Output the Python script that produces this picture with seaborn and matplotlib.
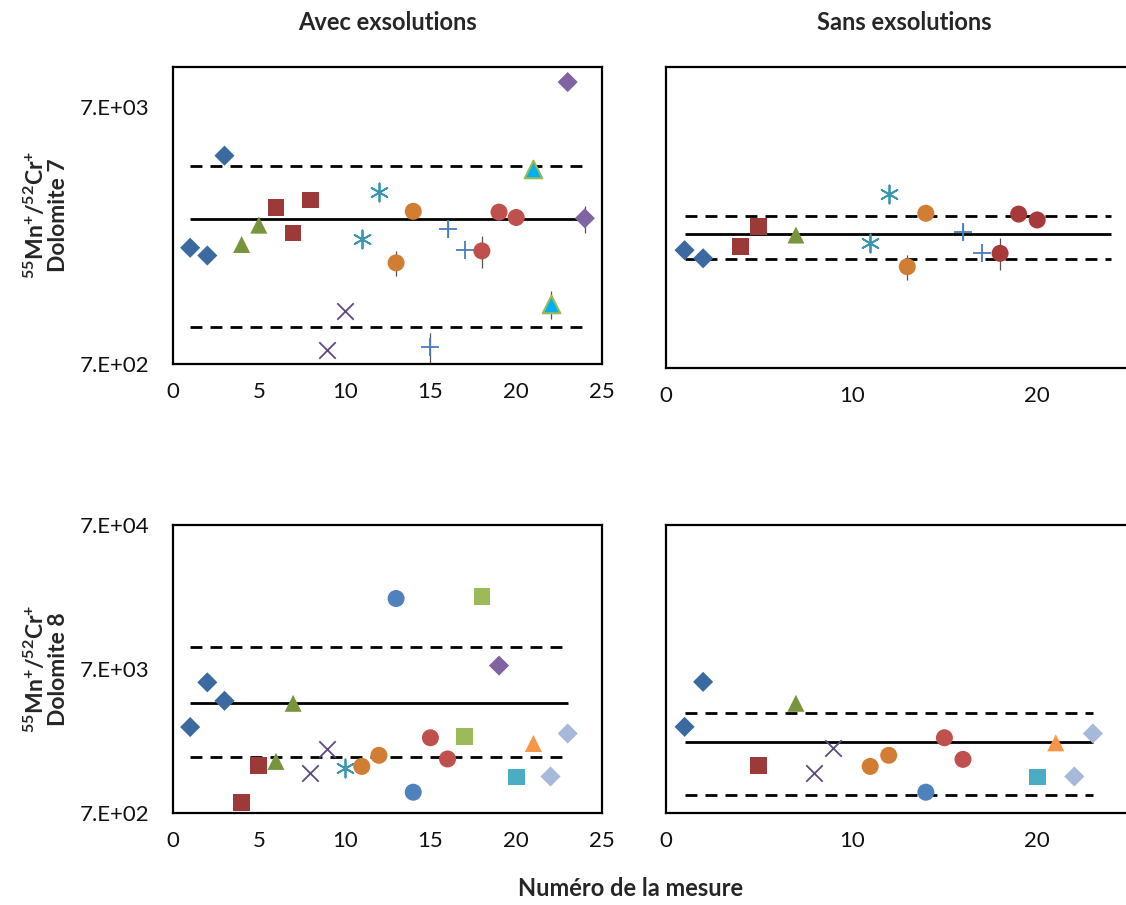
import numpy as np
import pandas as pd
import matplotlib
matplotlib.use('Agg')
from matplotlib import pyplot as plt
from matplotlib.ticker import NullLocator
import seaborn as sns

# Dolomite 7 - avec exsolutions
d7a_x = list(range(1, 25))
d7a_y = [1982, 1849, 4521, 2041, 2427, 2838, 2260, 3040, 793, 1129, 2135, 3264,
         1731, 2746, 817, 2336, 1946, 1927, 2727, 2599, 4004, 1197, 8739, 2581]
d7a_err = [0, 0, 0, 0, 0, 0, 0, 0, 0, 0, 160, 0,
           190, 0, 110, 160, 0, 270, 130, 0, 180, 145, 0, 310]
d7a_grp = ['A', 'A', 'A', 'B', 'B', 'C', 'C', 'C', 'D', 'D', 'E', 'E',
           'F', 'F', 'G', 'G', 'G', 'H', 'H', 'H', 'I', 'I', 'J', 'J']
d7a_lines = [2553, 4107, 979]   # moyenne, limite haute, limite basse
d7a_span = [1, 24]

# Dolomite 7 - sans exsolutions
d7s_x = [1, 2, 4, 5, 7, 11, 12, 13, 14, 16, 17, 18, 19, 20]
d7s_y = [1982, 1845, 2045, 2439, 2266, 2115, 3252, 1713, 2746, 2336, 1939, 1928, 2727, 2589]
d7s_err = [0, 0, 0, 0, 0, 160, 0, 190, 110, 160, 0, 270, 130, 0]
d7s_grp = ['A', 'A', 'C', 'C', 'B', 'E', 'E', 'F', 'F', 'G', 'G', 'P', 'P', 'P']
d7s_lines = [2282, 2687, 1830]
d7s_span = [1, 24]

# Dolomite 8 - avec exsolutions
d8a_x = list(range(1, 24))
d8a_y = [2767, 5654, 4210, 831, 1494, 1598, 4045, 1325, 1950, 1437, 1474, 1761,
         21600, 976, 2331, 1661, 2368, 22200, 7393, 1243, 2127, 1255, 2496]
d8a_err = [0] * 23
d8a_grp = ['A', 'A', 'A', 'C', 'C', 'B', 'B', 'D', 'D', 'E', 'F', 'F',
           'K', 'K', 'H', 'H', 'L', 'L', 'J', 'M', 'N', 'O', 'O']
d8a_lines = [4093, 10020, 1713]
d8a_span = [1, 23]

# Dolomite 8 - sans exsolutions
d8s_x = [1, 2, 5, 7, 8, 9, 11, 12, 14, 15, 16, 20, 21, 22, 23]
d8s_y = [2776, 5700, 1500, 4045, 1325, 1970, 1474, 1761, 976, 2331, 1650, 1243, 2150, 1255, 2496]
d8s_err = [0] * 15
d8s_grp = ['A', 'A', 'C', 'B', 'D', 'D', 'F', 'F', 'K', 'H', 'H', 'M', 'N', 'O', 'O']
d8s_lines = [2186, 3448, 935]
d8s_span = [1, 23]

col_titles = ['Avec exsolutions', 'Sans exsolutions']
row_labels = ['$^{55}$Mn$^{+}$/$^{52}$Cr$^{+}$\nDolomite 7',
              '$^{55}$Mn$^{+}$/$^{52}$Cr$^{+}$\nDolomite 8']
x_title = 'Numéro de la mesure'

sns.set_style('white')
plt.rcParams['font.family'] = ['Lato', 'DejaVu Sans']
plt.rcParams['mathtext.default'] = 'regular'

star = (6, 2, 0)
styles = {
    'A': dict(marker='D', color='#3B6AA0', s=105),
    'B': dict(marker='^', color='#77953D', s=150),
    'C': dict(marker='s', color='#9C3A39', s=145),
    'D': dict(marker='x', color='#5F4A7E', s=140, linewidth=1.3),
    'E': dict(marker=star, color='#3A97AE', s=170, linewidth=1.3),
    'F': dict(marker='o', color='#D27D34', s=150),
    'G': dict(marker='+', color='#4A7EBB', s=160, linewidth=1.3),
    'H': dict(marker='o', color='#C0504D', s=150),
    'I': dict(marker='^', color='#00B0F0', s=160, edgecolor='#9BBB59', linewidth=1.5),
    'J': dict(marker='D', color='#8064A2', s=105),
    'K': dict(marker='o', color='#4F81BD', s=150),
    'L': dict(marker='s', color='#9BBB59', s=145),
    'M': dict(marker='s', color='#4BACC6', s=145),
    'N': dict(marker='^', color='#F79646', s=150),
    'O': dict(marker='D', color='#A7B9DA', s=105),
    'P': dict(marker='o', color='#A63A3A', s=150),
}

W, H = 1126, 905
fig = plt.figure(figsize=(W / 100, H / 100), dpi=100)


def px_axes(left, right, top, bottom):
    return fig.add_axes([left / W, 1 - bottom / H, (right - left) / W, (bottom - top) / H])


panels = [
    (px_axes(173, 602, 67, 364), d7a_x, d7a_y, d7a_err, d7a_grp, d7a_lines, d7a_span, (700, 10000), True),
    (px_axes(666, 1130, 67, 368), d7s_x, d7s_y, d7s_err, d7s_grp, d7s_lines, d7s_span, (700, 10000), False),
    (px_axes(173, 602, 525, 813), d8a_x, d8a_y, d8a_err, d8a_grp, d8a_lines, d8a_span, (700, 70000), True),
    (px_axes(666, 1130, 525, 813), d8s_x, d8s_y, d8s_err, d8s_grp, d8s_lines, d8s_span, (700, 70000), False),
]

for ax, xs, ys, errs, grps, lines, span, ylim, left_col in panels:
    df = pd.DataFrame({'x': xs, 'y': ys, 'err': errs, 'grp': grps})
    ax.set_yscale('log')

    e = df[df.err > 0]
    ax.errorbar(e.x, e.y, yerr=e.err, fmt='none', ecolor='#555555', elinewidth=0.9, zorder=2)

    ax.hlines(lines[0], span[0], span[1], colors='black', linewidth=2, zorder=1)
    for v in lines[1:]:
        ax.hlines(v, span[0], span[1], colors='black', linewidth=2,
                  linestyles=(0, (4.3, 2.9)), zorder=1)

    for g, sub in df.groupby('grp', sort=False):
        st = dict(styles[g])
        kw = dict(edgecolor='none') if 'edgecolor' not in st and st['marker'] not in ('x', '+', star) else {}
        sns.scatterplot(data=sub, x='x', y='y', ax=ax, legend=False, zorder=3, **kw, **st)

    ax.set_ylim(*ylim)
    ax.yaxis.set_minor_locator(NullLocator())
    ax.set_xlim(0, 25)
    if left_col:
        ax.set_xticks([0, 5, 10, 15, 20, 25])
        if ylim[1] > 20000:
            ax.set_yticks([700, 7000, 70000])
            ax.set_yticklabels(['7.E+02', '7.E+03', '7.E+04'])
        else:
            ax.set_yticks([700, 7000])
            ax.set_yticklabels(['7.E+02', '7.E+03'])
    else:
        ax.set_xticks([0, 10, 20])
        ax.set_yticks([])
    ax.set_xlabel('')
    ax.set_ylabel('')
    for sp in ax.spines.values():
        sp.set_linewidth(1.6)
        sp.set_color('black')
    ax.tick_params(axis='both', direction='out', length=5, width=1.6, color='black',
                   labelsize=16, labelcolor='#111111')
    ax.tick_params(axis='y', pad=12)
    ax.tick_params(axis='x', pad=8)
    ax.set_facecolor('white')

fig.text(387 / W, 1 - 22 / H, col_titles[0], ha='center', va='center', fontsize=17, fontweight='bold')
fig.text(904 / W, 1 - 22 / H, col_titles[1], ha='center', va='center', fontsize=17, fontweight='bold')
fig.text(46 / W, 1 - 215 / H, row_labels[0], rotation=90, ha='center', va='center',
         multialignment='center', fontsize=16.5, fontweight='bold', linespacing=1.0)
fig.text(46 / W, 1 - 669 / H, row_labels[1], rotation=90, ha='center', va='center',
         multialignment='center', fontsize=16.5, fontweight='bold', linespacing=1.0)
fig.text(631 / W, 1 - 888 / H, x_title, ha='center', va='center', fontsize=17, fontweight='bold')

fig.savefig('out.png', dpi=100, facecolor='white')
